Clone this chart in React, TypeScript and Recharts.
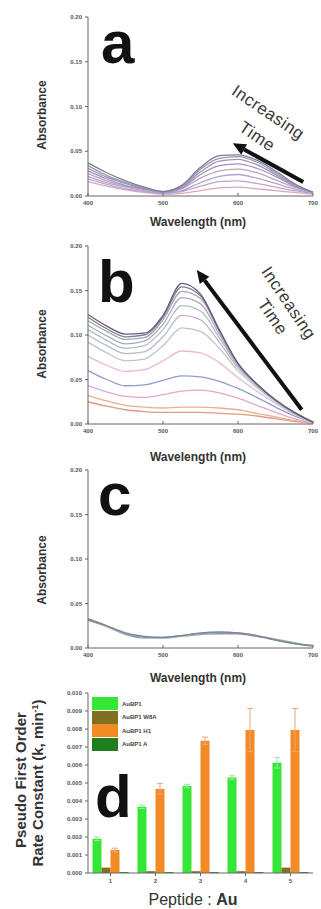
import React from 'react';
import {
  LineChart,
  Line,
  BarChart,
  Bar,
  ErrorBar,
  XAxis,
  YAxis,
  Legend,
  ReferenceLine,
} from 'recharts';

// wavelength grid (nm) shared by the three spectra panels
const wavelengths = [400, 425, 450, 475, 500, 525, 550, 575, 600, 625, 650, 675, 700];
const absTicks = [0, 0.05, 0.1, 0.15, 0.2];
const absMinorTicks = [0, 0.025, 0.05, 0.075, 0.1, 0.125, 0.15, 0.175, 0.2];
const wlTicks = [400, 500, 600, 700];
const wlMinorTicks = [400, 450, 500, 550, 600, 650, 700];

// panel a: early -> late
const a1 = [0.016, 0.011, 0.007, 0.004, 0.002, 0.003, 0.006, 0.009, 0.010, 0.008, 0.006, 0.004, 0.002];
const a2 = [0.019, 0.013, 0.008, 0.005, 0.003, 0.005, 0.011, 0.016, 0.017, 0.014, 0.010, 0.006, 0.003];
const a3 = [0.022, 0.015, 0.010, 0.006, 0.003, 0.006, 0.015, 0.022, 0.024, 0.020, 0.014, 0.008, 0.003];
const a4 = [0.025, 0.017, 0.011, 0.007, 0.004, 0.008, 0.020, 0.028, 0.030, 0.026, 0.018, 0.010, 0.004];
const a5 = [0.028, 0.019, 0.012, 0.008, 0.004, 0.009, 0.024, 0.034, 0.036, 0.031, 0.022, 0.011, 0.004];
const a6 = [0.031, 0.021, 0.014, 0.008, 0.005, 0.010, 0.027, 0.039, 0.041, 0.035, 0.024, 0.012, 0.004];
const a7 = [0.034, 0.023, 0.015, 0.009, 0.005, 0.011, 0.030, 0.042, 0.044, 0.038, 0.026, 0.013, 0.004];
const a8 = [0.037, 0.026, 0.017, 0.010, 0.005, 0.012, 0.032, 0.045, 0.046, 0.040, 0.028, 0.014, 0.004];
const panelA = [a1, a2, a3, a4, a5, a6, a7, a8];
const colorsA = ['#d6a8c4', '#c4a2cc', '#aaa8d0', '#c7a0bc', '#9c94c4', '#a98cb4', '#8f9cac', '#7c7c98'];

// panel b: early -> late
const b1 = [0.025, 0.020, 0.016, 0.014, 0.013, 0.013, 0.013, 0.012, 0.011, 0.009, 0.006, 0.003, 0.001];
const b2 = [0.032, 0.026, 0.021, 0.019, 0.018, 0.019, 0.019, 0.018, 0.016, 0.012, 0.008, 0.004, 0.001];
const b3 = [0.043, 0.036, 0.031, 0.030, 0.033, 0.037, 0.038, 0.035, 0.029, 0.021, 0.013, 0.006, 0.001];
const b4 = [0.060, 0.050, 0.043, 0.044, 0.049, 0.054, 0.053, 0.048, 0.040, 0.030, 0.019, 0.009, 0.002];
const b5 = [0.076, 0.066, 0.059, 0.061, 0.071, 0.082, 0.080, 0.069, 0.052, 0.037, 0.023, 0.011, 0.002];
const b6 = [0.092, 0.080, 0.071, 0.073, 0.088, 0.108, 0.104, 0.085, 0.060, 0.041, 0.025, 0.012, 0.002];
const b7 = [0.100, 0.088, 0.079, 0.081, 0.098, 0.122, 0.117, 0.092, 0.063, 0.043, 0.026, 0.012, 0.002];
const b8 = [0.106, 0.094, 0.085, 0.088, 0.106, 0.133, 0.127, 0.097, 0.065, 0.044, 0.026, 0.012, 0.002];
const b9 = [0.111, 0.099, 0.090, 0.093, 0.112, 0.142, 0.135, 0.101, 0.066, 0.044, 0.027, 0.013, 0.002];
const b10 = [0.116, 0.104, 0.095, 0.097, 0.117, 0.149, 0.141, 0.104, 0.067, 0.045, 0.027, 0.013, 0.002];
const b11 = [0.120, 0.107, 0.098, 0.100, 0.120, 0.154, 0.144, 0.105, 0.068, 0.045, 0.027, 0.013, 0.002];
const b12 = [0.123, 0.110, 0.101, 0.102, 0.122, 0.158, 0.146, 0.106, 0.068, 0.045, 0.027, 0.013, 0.002];
const panelB = [b1, b2, b3, b4, b5, b6, b7, b8, b9, b10, b11, b12];
const colorsB = ['#e09a80', '#e8b090', '#e4a8c8', '#8f9ccc', '#e8b8d8', '#b8c8c0', '#c0b4d0', '#a8c4b8', '#b4a8c8', '#9ab0a8', '#8a7a9c', '#6a5a78'];

// panel c
const c1 = [0.033, 0.025, 0.016, 0.012, 0.012, 0.014, 0.016, 0.016, 0.016, 0.013, 0.009, 0.005, 0.002];
const c2 = [0.031, 0.024, 0.015, 0.011, 0.011, 0.013, 0.015, 0.017, 0.017, 0.014, 0.010, 0.006, 0.002];
const c3 = [0.032, 0.025, 0.017, 0.013, 0.012, 0.014, 0.017, 0.018, 0.017, 0.014, 0.009, 0.005, 0.003];
const panelC = [c1, c2, c3];
const colorsC = ['#8a8aa0', '#a0a8b8', '#7a8890'];

// panel d: rate constants vs Peptide : Au
const ratios = ['1', '2', '3', '4', '5'];
const kAuBP1 = [0.0019, 0.00368, 0.00483, 0.0053, 0.00613];
const errAuBP1 = [0.0001, 0.0001, 0.0001, 0.0001, 0.0003];
const kAuBP1Mut = [0.0003, 0.0001, 0.0001, 0.0001, 0.0003];
const kAuBP1K = [0.00128, 0.00467, 0.00735, 0.00794, 0.00794];
const errAuBP1K = [0.0001, 0.0003, 0.0002, 0.0012, 0.0012];
const kAuBP1A = [0.00005, 0.00005, 0.00005, 0.00005, 0.00005];
const kTicks = [0, 0.001, 0.002, 0.003, 0.004, 0.005, 0.006, 0.007, 0.008, 0.009, 0.01];
const legendNames = ['AuBP1', 'AuBP1 W8A', 'AuBP1 H1', 'AuBP1 A'];
const legendColors = ['#36e636', '#7e7222', '#f28a26', '#1f7e1f'];

const FONT = '"Liberation Sans", Arial, sans-serif';
const AXIS = '#666';
const tickStyle = { fontSize: 6, fill: '#555', fontFamily: FONT, fontWeight: 700 };

const toRows = (curves: number[][]) =>
  wavelengths.map((wl, i) => {
    const row: any = { wl };
    curves.forEach((c, j) => (row['s' + j] = c[i]));
    return row;
  });

const Arrow = (p: any) => {
  const { x1, y1, x2, y2 } = p;
  const ang = Math.atan2(y2 - y1, x2 - x1);
  const L = 13;
  const W = 6;
  const bx = x2 - L * Math.cos(ang);
  const by = y2 - L * Math.sin(ang);
  const px = -Math.sin(ang) * W;
  const py = Math.cos(ang) * W;
  return (
    <g>
      <line x1={x1} y1={y1} x2={bx} y2={by} stroke="#111" strokeWidth={4} />
      <polygon points={`${x2},${y2} ${bx + px},${by + py} ${bx - px},${by - py}`} fill="#111" />
    </g>
  );
};

interface SpectraProps {
  top: number;
  height: number;
  plotTop: number;
  plotBottom: number;
  curves: number[][];
  colors: string[];
  arrow?: { x: number; y: number }[];
}

const Spectra: React.FC<SpectraProps> = ({ top, height, plotTop, plotBottom, curves, colors, arrow }) => (
  <div style={{ position: 'absolute', left: 0, top }}>
    <LineChart
      width={321}
      height={height}
      data={toRows(curves)}
      margin={{ top: plotTop - top, right: 8, bottom: 0, left: 0 }}
    >
      <XAxis
        dataKey="wl"
        type="number"
        domain={[400, 700]}
        ticks={wlTicks}
        height={top + height - plotBottom}
        tick={tickStyle}
        tickSize={-3}
        tickMargin={8}
        stroke={AXIS}
      />
      <XAxis xAxisId="t" dataKey="wl" type="number" domain={[400, 700]} ticks={wlMinorTicks} orientation="top" height={0} mirror tick={false} tickSize={3} stroke={AXIS} />
      <YAxis
        type="number"
        domain={[0, 0.2]}
        ticks={absTicks}
        width={88}
        tick={tickStyle}
        tickFormatter={(v: number) => v.toFixed(2)}
        tickSize={3}
        tickMargin={3}
        stroke={AXIS}
      />
      <YAxis yAxisId="r" orientation="right" domain={[0, 0.2]} ticks={absMinorTicks} width={0} mirror tick={false} tickSize={3} stroke={AXIS} />
      {curves.map((_, j) => (
        <Line
          key={j}
          dataKey={'s' + j}
          type="monotone"
          stroke={colors[j]}
          strokeWidth={1.3}
          dot={false}
          isAnimationActive={false}
        />
      ))}
      {arrow && <ReferenceLine segment={arrow} shape={Arrow} />}
    </LineChart>
  </div>
);

const rateRows = ratios.map((r, i) => ({
  r,
  a: kAuBP1[i],
  ae: errAuBP1[i],
  b: kAuBP1Mut[i],
  c: kAuBP1K[i],
  ce: errAuBP1K[i],
  d: kAuBP1A[i],
}));

const RateLegend = () => (
  <div style={{ fontFamily: FONT }}>
    {legendNames.map((n, i) => (
      <div key={n} style={{ display: 'flex', alignItems: 'center', height: 13.5 }}>
        <div style={{ width: 26, height: 13, background: legendColors[i] }} />
        <span style={{ fontSize: 6, fontWeight: 700, color: '#444', marginLeft: 4 }}>{n}</span>
      </div>
    ))}
  </div>
);

const Overlay = () => (
  <svg width={321} height={909} style={{ position: 'absolute', left: 0, top: 0, pointerEvents: 'none' }} fontFamily={FONT}>
    {/* panel letters */}
    <g fontSize={60} fontWeight={700} fill="#111">
      <text x={101} y={63}>a</text>
      <text x={98} y={302}>b</text>
      <text x={98} y={515}>c</text>
      <text x={95} y={817}>d</text>
    </g>
    {/* axis titles */}
    <g fontSize={12} fontWeight={700} fill="#333" textAnchor="middle">
      <text x={198} y={226}>Wavelength (nm)</text>
      <text x={198} y={461}>Wavelength (nm)</text>
      <text x={198} y={682}>Wavelength (nm)</text>
      <text transform="translate(46,115) rotate(-90)">Absorbance</text>
      <text transform="translate(46,344) rotate(-90)">Absorbance</text>
      <text transform="translate(46,570) rotate(-90)">Absorbance</text>
    </g>
    <g fontSize={15} fontWeight={700} fill="#333" textAnchor="middle">
      <text transform="translate(26,780) rotate(-90)">Pseudo First Order</text>
      <text transform="translate(43,783) rotate(-90)">
        Rate Constant (k, min<tspan dy={-5} fontSize={9}>-1</tspan><tspan dy={5}>)</tspan>
      </text>
    </g>
    <text x={193} y={905} fontSize={16} fill="#333" textAnchor="middle">
      Peptide : <tspan fontWeight={700}>Au</tspan>
    </text>
    {/* annotations */}
    <g fontSize={17} fill="#3a3a3a" textAnchor="middle" letterSpacing={0.5}>
      <text transform="translate(265,117) rotate(34)">Increasing</text>
      <text transform="translate(254,141) rotate(34)">Time</text>
      <text transform="translate(284,306) rotate(56)">Increasing</text>
      <text transform="translate(268,320) rotate(56)">Time</text>
    </g>
  </svg>
);

export default function App() {
  return (
    <div style={{ position: 'absolute', left: 0, top: 0, width: 321, height: 909, background: '#fff', overflow: 'hidden' }}>
      <Spectra
        top={0}
        height={230}
        plotTop={17}
        plotBottom={196}
        curves={panelA}
        colors={colorsA}
        arrow={[{ x: 687, y: 0.0156 }, { x: 593, y: 0.059 }]}
      />
      <Spectra
        top={220}
        height={230}
        plotTop={246}
        plotBottom={424}
        curves={panelB}
        colors={colorsB}
        arrow={[{ x: 685, y: 0.016 }, { x: 545, y: 0.173 }]}
      />
      <Spectra top={445} height={225} plotTop={470} plotBottom={648} curves={panelC} colors={colorsC} />
      <div style={{ position: 'absolute', left: 0, top: 665 }}>
        <BarChart
          width={321}
          height={244}
          data={rateRows}
          margin={{ top: 28, right: 8, bottom: 0, left: 0 }}
          barCategoryGap="10%"
          barGap={0}
        >
          <XAxis dataKey="r" height={36} tick={tickStyle} tickSize={3} tickMargin={3} stroke={AXIS} />
          <XAxis xAxisId="t" dataKey="r" orientation="top" height={0} mirror tick={false} tickSize={3} stroke={AXIS} />
          <YAxis
            domain={[0, 0.01]}
            ticks={kTicks}
            width={88}
            tick={tickStyle}
            tickFormatter={(v: number) => v.toFixed(3)}
            tickSize={3}
            tickMargin={3}
            stroke={AXIS}
          />
          <YAxis yAxisId="r" orientation="right" domain={[0, 0.01]} ticks={kTicks} width={0} mirror tick={false} tickSize={3} stroke={AXIS} />
          <Legend
            layout="vertical"
            align="center"
            verticalAlign="middle"
            wrapperStyle={{ left: 92, top: 32, width: 'auto' }}
            content={RateLegend}
          />
          <Bar dataKey="a" name={legendNames[0]} fill={legendColors[0]} isAnimationActive={false}>
            <ErrorBar dataKey="ae" width={3} stroke="#9be89b" strokeWidth={1} direction="y" />
          </Bar>
          <Bar dataKey="b" name={legendNames[1]} fill={legendColors[1]} isAnimationActive={false} />
          <Bar dataKey="c" name={legendNames[2]} fill={legendColors[2]} isAnimationActive={false}>
            <ErrorBar dataKey="ce" width={3} stroke="#e8a878" strokeWidth={1} direction="y" />
          </Bar>
          <Bar dataKey="d" name={legendNames[3]} fill={legendColors[3]} isAnimationActive={false} />
        </BarChart>
      </div>
      <Overlay />
    </div>
  );
}
